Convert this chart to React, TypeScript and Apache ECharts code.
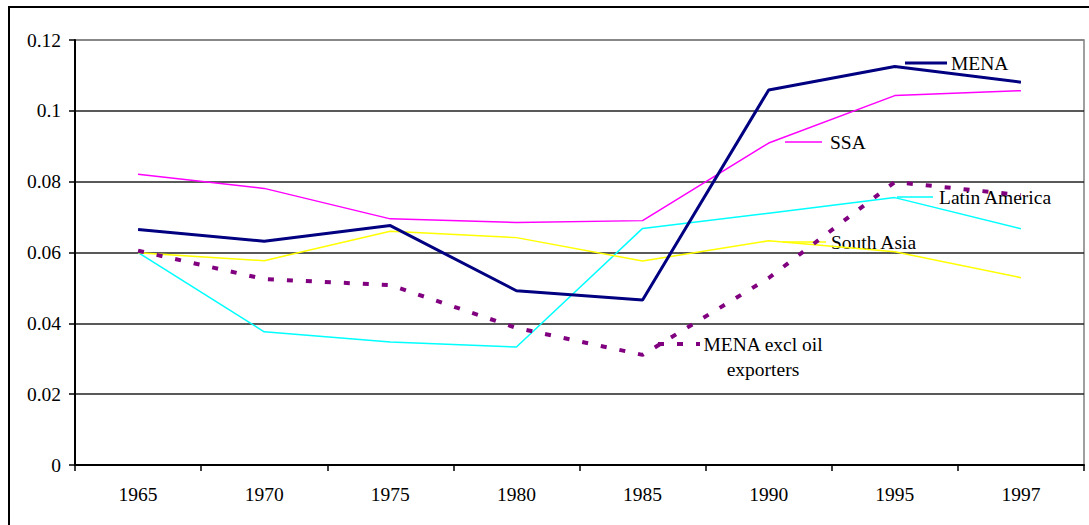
import React, { useEffect, useRef } from "react";
import * as echarts from "echarts";

const years = ["1965", "1970", "1975", "1980", "1985", "1990", "1995", "1997"];
const mena = [0.0665, 0.0632, 0.0676, 0.0492, 0.0466, 0.1059, 0.1125, 0.1081];
const ssa = [0.0821, 0.0781, 0.0695, 0.0685, 0.069, 0.0909, 0.1043, 0.1057];
const latinAmerica = [0.06, 0.0376, 0.0347, 0.0333, 0.0668, 0.0711, 0.0755, 0.0667];
const southAsia = [0.0599, 0.0577, 0.066, 0.0642, 0.0576, 0.0633, 0.0602, 0.0529];
const menaExclOil = [0.0605, 0.0525, 0.0508, 0.0387, 0.0311, 0.0528, 0.0799, 0.0762];

const FONT = '"Liberation Serif", "Times New Roman", serif';
const FS = 19.5;

export default function App() {
  const ref = useRef<HTMLDivElement>(null);
  useEffect(() => {
    if (!ref.current) return;
    const chart = echarts.init(ref.current, null, { renderer: "svg" });
    const txt = (x: number, y: number, s: string, align = "left") => ({
      type: "text",
      x,
      y,
      style: { text: s, font: `${FS}px ${FONT}`, fill: "#000", textAlign: align, textVerticalAlign: "middle" },
    });
    const key = (x1: number, x2: number, y: number, color: string, w: number, dash?: number[]) => ({
      type: "line",
      shape: { x1, y1: y, x2, y2: y },
      style: { stroke: color, lineWidth: w, lineDash: dash },
    });
    chart.setOption({
      animation: false,
      backgroundColor: "#fff",
      textStyle: { fontFamily: FONT },
      grid: { left: 75, top: 40, right: 5, bottom: 60, show: true, borderColor: "#808080", borderWidth: 1.5 },
      xAxis: {
        type: "category",
        data: years,
        boundaryGap: true,
        axisLine: { lineStyle: { color: "#000", width: 2 } },
        axisTick: { show: true, interval: 0, length: 6, lineStyle: { color: "#000", width: 1.5 } },
        axisLabel: { color: "#000", fontSize: FS, fontFamily: FONT, margin: 19, interval: 0 },
        splitLine: { show: false },
      },
      yAxis: {
        type: "value",
        min: 0,
        max: 0.12,
        interval: 0.02,
        axisLine: { show: true, lineStyle: { color: "#000", width: 2 } },
        axisTick: { show: true, length: 6, lineStyle: { color: "#000", width: 1.5 } },
        axisLabel: { color: "#000", fontSize: FS, fontFamily: FONT, margin: 14 },
        splitLine: {
          show: true,
          lineStyle: { color: ["#222", "#222", "#222", "#222", "#222", "#222", "#808080"], width: 1.5 },
        },
      },
      series: [
        { name: "SSA", type: "line", data: ssa, symbol: "none", lineStyle: { color: "#FF00FF", width: 1.5 }, z: 2 },
        { name: "Latin America", type: "line", data: latinAmerica, symbol: "none", lineStyle: { color: "#00FFFF", width: 1.5 }, z: 2 },
        { name: "South Asia", type: "line", data: southAsia, symbol: "none", lineStyle: { color: "#FFFF00", width: 1.5 }, z: 2 },
        { name: "MENA excl oil exporters", type: "line", data: menaExclOil, symbol: "none", lineStyle: { color: "#800080", width: 4, type: [6, 13] }, z: 3 },
        { name: "MENA", type: "line", data: mena, symbol: "none", lineStyle: { color: "#000080", width: 3 }, z: 4 },
      ],
      graphic: [
        { type: "rect", shape: { x: 9, y: 7, width: 1100, height: 540 }, style: { fill: "none", stroke: "#000", lineWidth: 2 }, z: 100 },
        key(905, 947, 63, "#000080", 3),
        txt(951, 63, "MENA"),
        key(785, 822, 142, "#FF00FF", 1.5),
        txt(830, 142, "SSA"),
        key(897, 933, 197, "#00FFFF", 1.5),
        txt(939, 197, "Latin America"),
        key(783, 826, 242, "#FFFF00", 1.5),
        txt(831, 242, "South Asia"),
        key(658, 700, 344, "#800080", 4, [6, 13]),
        txt(763, 344, "MENA excl oil", "center"),
        txt(763, 369, "exporters", "center"),
      ],
    });
    return () => chart.dispose();
  }, []);
  return (
    <div
      ref={ref}
      style={{ position: "absolute", left: 0, top: 0, width: 1089, height: 525 }}
    />
  );
}
